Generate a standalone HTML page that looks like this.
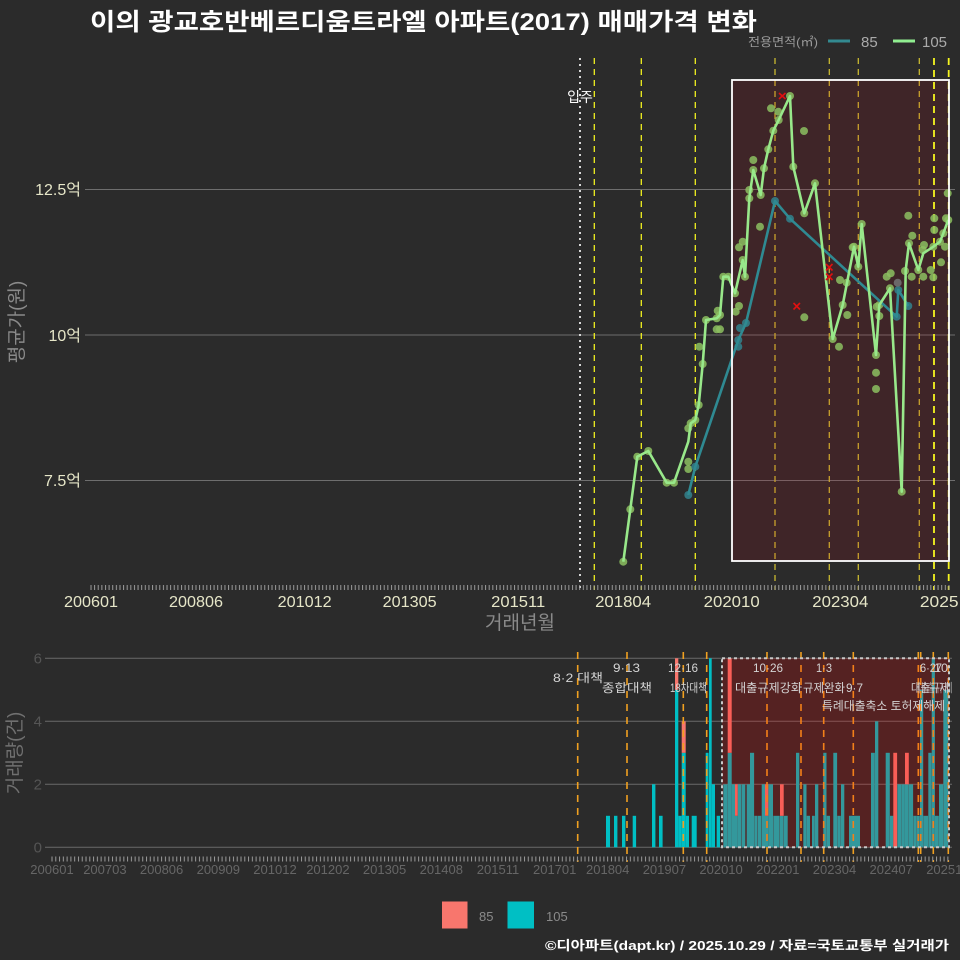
<!DOCTYPE html>
<html><head><meta charset="utf-8"><style>
html,body{margin:0;padding:0;background:#2b2b2b;}
svg{display:block;}
text{font-family:"Liberation Sans","Noto Sans CJK KR",sans-serif;}
</style></head><body>
<svg width="960" height="960" viewBox="0 0 960 960" xmlns="http://www.w3.org/2000/svg">
<defs>
<pattern id="tkT" x="90.5" y="0" width="3.62" height="10" patternUnits="userSpaceOnUse"><rect x="0" y="0" width="1" height="10" fill="#9a9a9a"/></pattern>
<pattern id="tkB" x="51.5" y="0" width="3.78" height="10" patternUnits="userSpaceOnUse"><rect x="0" y="0" width="1" height="10" fill="#9a9a9a"/></pattern>
<clipPath id="cT"><rect x="0" y="0" width="958" height="960"/></clipPath>
</defs>
<rect width="960" height="960" fill="#2b2b2b"/>

<!-- Title -->
<text x="90" y="30" font-size="24" font-weight="bold" fill="#ffffff" textLength="667" lengthAdjust="spacingAndGlyphs">이의 광교호반베르디움트라엘 아파트(2017) 매매가격 변화</text>

<!-- Top legend -->
<text x="748" y="46" font-size="12" fill="#9a9a9a" textLength="70" lengthAdjust="spacingAndGlyphs">전용면적(㎡)</text>
<line x1="828" y1="41" x2="850" y2="41" stroke="#338a90" stroke-width="3"/>
<text x="861" y="47" font-size="15" fill="#aaaaaa">85</text>
<line x1="893" y1="41" x2="915" y2="41" stroke="#90ee90" stroke-width="3"/>
<text x="922" y="47" font-size="15" fill="#aaaaaa">105</text>

<!-- TOP CHART -->
<g stroke="#6e6e6e" stroke-width="1">
<line x1="85" y1="189.5" x2="955" y2="189.5"/>
<line x1="85" y1="335" x2="955" y2="335"/>
<line x1="85" y1="480.5" x2="955" y2="480.5"/>
</g>
<g font-size="16" fill="#e6e6c8" text-anchor="end">
<text x="81" y="195">12.5억</text>
<text x="81" y="341">10억</text>
<text x="81" y="486">7.5억</text>
</g>
<text transform="translate(23,322) rotate(-90)" font-size="19" fill="#8a8a8a" text-anchor="middle">평균가(원)</text>

<!-- vertical lines top -->
<line x1="580" y1="58" x2="580" y2="590" stroke="#d8d8d8" stroke-width="2" stroke-dasharray="2,4"/>
<g stroke="#f0f020" stroke-width="1.3" stroke-dasharray="6,5">
<line x1="594.3" y1="58" x2="594.3" y2="590"/>
<line x1="641.3" y1="58" x2="641.3" y2="590"/>
<line x1="695.3" y1="58" x2="695.3" y2="590"/>
<line x1="775" y1="58" x2="775" y2="590" stroke="#c8b830"/>
<line x1="829.3" y1="58" x2="829.3" y2="590" stroke="#c8b830"/>
<line x1="858.3" y1="58" x2="858.3" y2="590" stroke="#c8b830"/>
<line x1="919.3" y1="58" x2="919.3" y2="590" stroke="#c8b830"/>
</g>
<!-- shaded rect -->
<rect x="732" y="80" width="217" height="481" fill="rgb(200,0,20)" fill-opacity="0.13"/>
<g stroke="#f5f520" stroke-width="1.8" stroke-dasharray="7,5">
<line x1="934" y1="58" x2="934" y2="590"/>
<line x1="948.7" y1="58" x2="948.7" y2="590"/>
</g>
<text x="580" y="102" font-size="14" fill="#ffffff" text-anchor="middle">입주</text>

<!-- tick row top -->
<rect x="90" y="585" width="860" height="5" fill="url(#tkT)"/>
<g font-size="16" fill="#e6e6c8" text-anchor="middle" clip-path="url(#cT)">
<text x="91" y="607" textLength="54" lengthAdjust="spacingAndGlyphs">200601</text>
<text x="196" y="607" textLength="54" lengthAdjust="spacingAndGlyphs">200806</text>
<text x="304.6" y="607" textLength="54" lengthAdjust="spacingAndGlyphs">201012</text>
<text x="409.6" y="607" textLength="54" lengthAdjust="spacingAndGlyphs">201305</text>
<text x="518.2" y="607" textLength="54" lengthAdjust="spacingAndGlyphs">201511</text>
<text x="623.1" y="607" textLength="56" lengthAdjust="spacingAndGlyphs">201804</text>
<text x="731.7" y="607" textLength="56" lengthAdjust="spacingAndGlyphs">202010</text>
<text x="840.3" y="607" textLength="56" lengthAdjust="spacingAndGlyphs">202304</text>
<text x="948.9" y="607" textLength="58" lengthAdjust="spacingAndGlyphs">202510</text>
</g>
<text x="520" y="629" font-size="19" fill="#8a8a8a" text-anchor="middle">거래년월</text>

<!-- green scatter -->
<g fill="rgb(140,192,96)" fill-opacity="0.85">
<circle cx="623.3" cy="561.7" r="4"/><circle cx="630.3" cy="509.3" r="4"/><circle cx="637.3" cy="456.7" r="4"/><circle cx="648.3" cy="451" r="4"/><circle cx="666.7" cy="482.7" r="4"/><circle cx="674" cy="482.7" r="4"/><circle cx="688.3" cy="428.3" r="4"/><circle cx="688.3" cy="461.7" r="4"/><circle cx="688.3" cy="469" r="4"/><circle cx="690.7" cy="423.3" r="4"/><circle cx="695.3" cy="420" r="4"/><circle cx="698.7" cy="405" r="4"/><circle cx="699.3" cy="346.7" r="4"/><circle cx="702.7" cy="364" r="4"/><circle cx="706" cy="320" r="4"/><circle cx="716.7" cy="329.3" r="4"/><circle cx="720" cy="329.3" r="4"/><circle cx="716.7" cy="318.3" r="4"/><circle cx="720" cy="315" r="4"/><circle cx="717.7" cy="310.7" r="4"/><circle cx="723.3" cy="276.7" r="4"/><circle cx="728.3" cy="276.7" r="4"/><circle cx="735" cy="293.3" r="4"/><circle cx="735.7" cy="311.7" r="4"/><circle cx="739" cy="306" r="4"/><circle cx="739" cy="247.3" r="4"/><circle cx="742.7" cy="241.7" r="4"/><circle cx="742.7" cy="260" r="4"/><circle cx="745" cy="276.7" r="4"/><circle cx="749.3" cy="198.3" r="4"/><circle cx="749.3" cy="190" r="4"/><circle cx="753.3" cy="170" r="4"/><circle cx="753.3" cy="160" r="4"/><circle cx="760" cy="226.7" r="4"/><circle cx="760.7" cy="195" r="4"/><circle cx="764" cy="168.3" r="4"/><circle cx="768.3" cy="149.3" r="4"/><circle cx="771" cy="108.3" r="4"/><circle cx="773.3" cy="130.7" r="4"/><circle cx="778.3" cy="111.7" r="4"/><circle cx="778.7" cy="120" r="4"/><circle cx="790" cy="96" r="4"/><circle cx="793.3" cy="166.7" r="4"/><circle cx="804" cy="131" r="4"/><circle cx="804.3" cy="213.3" r="4"/><circle cx="804.3" cy="317.3" r="4"/><circle cx="815" cy="183.3" r="4"/><circle cx="832.7" cy="339" r="4"/><circle cx="839" cy="346.7" r="4"/><circle cx="840" cy="280" r="4"/><circle cx="842.7" cy="305" r="4"/><circle cx="846.7" cy="282.7" r="4"/><circle cx="847.3" cy="315" r="4"/><circle cx="852.7" cy="247.3" r="4"/><circle cx="854" cy="246.7" r="4"/><circle cx="858.3" cy="266.7" r="4"/><circle cx="861.7" cy="224" r="4"/><circle cx="876" cy="355" r="4"/><circle cx="876" cy="372.7" r="4"/><circle cx="876" cy="389" r="4"/><circle cx="876.7" cy="306.7" r="4"/><circle cx="879.3" cy="316" r="4"/><circle cx="879.3" cy="305" r="4"/><circle cx="886.7" cy="276.7" r="4"/><circle cx="890" cy="288.3" r="4"/><circle cx="890.7" cy="273.3" r="4"/><circle cx="901.7" cy="491.7" r="4"/><circle cx="905" cy="271" r="4"/><circle cx="908.3" cy="215.7" r="4"/><circle cx="909" cy="243.3" r="4"/><circle cx="911.7" cy="276.7" r="4"/><circle cx="912.3" cy="235.7" r="4"/><circle cx="918.3" cy="270" r="4"/><circle cx="922.7" cy="250" r="4"/><circle cx="923.3" cy="276.7" r="4"/><circle cx="924" cy="245" r="4"/><circle cx="930.7" cy="270" r="4"/><circle cx="933.3" cy="277.3" r="4"/><circle cx="933.3" cy="246.7" r="4"/><circle cx="934.3" cy="218.3" r="4"/><circle cx="934.3" cy="230" r="4"/><circle cx="940" cy="241.7" r="4"/><circle cx="941" cy="262.3" r="4"/><circle cx="943.3" cy="233.3" r="4"/><circle cx="945" cy="246.7" r="4"/><circle cx="946" cy="218.3" r="4"/><circle cx="947.7" cy="193.3" r="4"/><circle cx="948.3" cy="220" r="4"/>
</g>
<!-- teal scatter -->
<g fill="rgb(50,125,135)" fill-opacity="0.9">
<circle cx="688.3" cy="495" r="4"/><circle cx="695.3" cy="466.7" r="4"/><circle cx="738.3" cy="340" r="4"/><circle cx="738.3" cy="346.7" r="4"/><circle cx="740" cy="328" r="4"/><circle cx="746" cy="323" r="4"/><circle cx="775" cy="201" r="4"/><circle cx="790" cy="218.7" r="4"/><circle cx="896.7" cy="316.7" r="4"/><circle cx="898.3" cy="290" r="4"/><circle cx="908.3" cy="306" r="4"/>
<circle cx="897.7" cy="282.7" r="4" fill="#707070"/>
</g>
<!-- lines -->
<polyline fill="none" stroke="#2f8a92" stroke-width="2.6" stroke-linejoin="round" points="688.3,495 695.3,466.7 738.3,340 746,323 775,201 790,218.7 896.7,316.7 898.3,290 908.3,306"/>
<polyline fill="none" stroke="#98e88a" stroke-width="2.6" stroke-linejoin="round" points="623.3,561.7 630.3,509.3 637.3,456.7 648.3,451 666.7,482.7 674,482.7 688.3,441.7 690.7,423.3 695.3,420 698.7,405 702.7,364 706,320 716.7,318.3 720,315 723.3,276.7 728.3,276.7 735,293.3 742.7,260 745,276.7 749.3,198.3 753.3,170 760.7,195 764,168.3 768.3,149.3 773.3,130.7 778.7,120 790,96 793.3,166.7 804.3,213.3 815,183.3 832.7,339 842.7,305 854,246.7 858.3,266.7 861.7,224 876,355 879.3,305 890,288.3 901.7,491.7 905.7,270 909,243.3 918.3,270 923.3,253.3 933.3,246.7 940,241.7 943.3,233.3 948.3,220"/>
<!-- red x marks -->
<g stroke="#e01010" stroke-width="1.6">
<path d="M779 93 L785.5 99 M785.5 93 L779 99"/>
<path d="M826 264 L832.5 270.5 M832.5 264 L826 270.5"/>
<path d="M826 273.5 L832.5 280 M832.5 273.5 L826 280"/>
<path d="M793.5 303 L800 309.5 M800 303 L793.5 309.5"/>
</g>
<rect x="732" y="80" width="217" height="481" fill="none" stroke="#ffffff" stroke-width="1.8"/>

<!-- BOTTOM CHART -->
<g stroke="#6a6a6a" stroke-width="1">
<line x1="45" y1="658.3" x2="952" y2="658.3"/>
<line x1="45" y1="721.3" x2="952" y2="721.3"/>
<line x1="45" y1="784.3" x2="952" y2="784.3"/>
<line x1="45" y1="847.3" x2="952" y2="847.3"/>
</g>
<g font-size="15" fill="#555555" text-anchor="end">
<text x="42" y="663.5">6</text>
<text x="42" y="726.5">4</text>
<text x="42" y="789.5">2</text>
<text x="42" y="852.5">0</text>
</g>
<text transform="translate(21,753) rotate(-90)" font-size="19" fill="#707070" text-anchor="middle">거래량(건)</text>

<!-- bars: cyan -->
<g fill="#00bfc4">
<rect x="606" y="815.8" width="4" height="31.5"/>
<rect x="614" y="815.8" width="3.4" height="31.5"/>
<rect x="622" y="815.8" width="3.4" height="31.5"/>
<rect x="632.7" y="815.8" width="3.4" height="31.5"/>
<rect x="652" y="784.3" width="3.4" height="63"/>
<rect x="659" y="815.8" width="3.6" height="31.5"/>
<rect x="675" y="689.8" width="3.3" height="157.5"/>
<rect x="678.3" y="815.8" width="3.4" height="31.5"/>
<rect x="681.7" y="752.8" width="4" height="94.5"/>
<rect x="685.7" y="815.8" width="3.3" height="31.5"/>
<rect x="691.7" y="815.8" width="5" height="31.5"/>
<rect x="705.7" y="752.8" width="2.8" height="94.5"/>
<rect x="709" y="658.3" width="2.7" height="189"/>
<rect x="711.7" y="784.3" width="3.3" height="63"/>
<rect x="716.7" y="815.8" width="3.3" height="31.5"/>
<rect x="723.3" y="784.3" width="4.2" height="63"/>
<rect x="727.7" y="752.8" width="4" height="94.5"/>
<rect x="731.7" y="784.3" width="3.3" height="63"/>
<rect x="735" y="815.8" width="2.7" height="31.5"/>
<rect x="737.7" y="784.3" width="3.6" height="63"/>
<rect x="741.7" y="784.3" width="3.6" height="63"/>
<rect x="746.7" y="784.3" width="3.3" height="63"/>
<rect x="750" y="752.8" width="4.1" height="94.5"/>
<rect x="754.3" y="815.8" width="3" height="31.5"/>
<rect x="757.7" y="815.8" width="3.6" height="31.5"/>
<rect x="761.7" y="784.3" width="3.3" height="63"/>
<rect x="765" y="815.8" width="3.3" height="31.5"/>
<rect x="768.3" y="784.3" width="4.7" height="63"/>
<rect x="773.3" y="815.8" width="6.4" height="31.5"/>
<rect x="780" y="815.8" width="3.7" height="31.5"/>
<rect x="784" y="815.8" width="3.7" height="31.5"/>
<rect x="796" y="752.8" width="3.3" height="94.5"/>
<rect x="803.3" y="784.3" width="3.2" height="63"/>
<rect x="806.7" y="815.8" width="3.3" height="31.5"/>
<rect x="812" y="815.8" width="2.8" height="31.5"/>
<rect x="815" y="784.3" width="3.3" height="63"/>
<rect x="823.3" y="752.8" width="3.2" height="94.5"/>
<rect x="826.7" y="815.8" width="3.3" height="31.5"/>
<rect x="833.3" y="752.8" width="3.8" height="94.5"/>
<rect x="837.3" y="815.8" width="3.5" height="31.5"/>
<rect x="841" y="784.3" width="3.3" height="63"/>
<rect x="849" y="815.8" width="11" height="31.5"/>
<rect x="871" y="752.8" width="3.8" height="94.5"/>
<rect x="875" y="721.3" width="3.3" height="126"/>
<rect x="885.7" y="752.8" width="4.1" height="94.5"/>
<rect x="890" y="815.8" width="3.3" height="31.5"/>
<rect x="897.3" y="784.3" width="4.2" height="63"/>
<rect x="901.7" y="784.3" width="3.2" height="63"/>
<rect x="905" y="784.3" width="3.8" height="63"/>
<rect x="909" y="784.3" width="4.1" height="63"/>
<rect x="913.3" y="815.8" width="3.2" height="31.5"/>
<rect x="916.7" y="815.8" width="3.1" height="31.5"/>
<rect x="920" y="689.8" width="3.2" height="157.5"/>
<rect x="923.3" y="815.8" width="4.8" height="31.5"/>
<rect x="928.3" y="752.8" width="3.2" height="94.5"/>
<rect x="931.7" y="658.3" width="3.2" height="189"/>
<rect x="935" y="815.8" width="3.8" height="31.5"/>
<rect x="939" y="784.3" width="4.1" height="63"/>
<rect x="943.3" y="689.8" width="5" height="157.5"/>
</g>
<!-- bars: salmon -->
<g fill="#f8766d">
<rect x="675" y="658.3" width="3.3" height="31.5"/>
<rect x="681.7" y="721.3" width="4" height="31.5"/>
<rect x="727.7" y="658.3" width="4" height="94.5"/>
<rect x="735" y="784.3" width="2.7" height="31.5"/>
<rect x="765" y="784.3" width="3.3" height="31.5"/>
<rect x="780" y="784.3" width="3.7" height="31.5"/>
<rect x="893.3" y="752.8" width="3.8" height="94.5"/>
<rect x="905" y="752.8" width="3.8" height="31.5"/>
</g>

<!-- orange dashed lines -->
<g stroke="#f0a020" stroke-width="1.6" stroke-dasharray="7,6">
<line x1="577.7" y1="652" x2="577.7" y2="862"/>
<line x1="627" y1="652" x2="627" y2="862"/>
<line x1="683.3" y1="652" x2="683.3" y2="862"/>
<line x1="706.7" y1="652" x2="706.7" y2="862"/>
<line x1="767" y1="652" x2="767" y2="862"/>
<line x1="801" y1="652" x2="801" y2="862"/>
<line x1="823.7" y1="652" x2="823.7" y2="862"/>
<line x1="853.3" y1="652" x2="853.3" y2="862"/>
<line x1="918.3" y1="652" x2="918.3" y2="862"/>
<line x1="920.7" y1="652" x2="920.7" y2="862"/>
<line x1="933.3" y1="652" x2="933.3" y2="862"/>
<line x1="948.3" y1="652" x2="948.3" y2="862"/>
</g>
<!-- shaded rect bottom -->
<rect x="722" y="658.3" width="227" height="189" fill="#ff0000" fill-opacity="0.2"/>
<rect x="722" y="658.3" width="227" height="189" fill="none" stroke="#c8c8c8" stroke-width="2" stroke-dasharray="3,3"/>

<!-- annotations -->
<g font-size="12" fill="#d4d4d4">
<text x="553" y="682" textLength="50" lengthAdjust="spacingAndGlyphs">8·2 대책</text>
<text x="613" y="672" textLength="27" lengthAdjust="spacingAndGlyphs">9·13</text>
<text x="602" y="692" textLength="50" lengthAdjust="spacingAndGlyphs">종합대책</text>
<text x="668" y="672" textLength="30" lengthAdjust="spacingAndGlyphs">12·16</text>
<text x="670" y="692" textLength="37" lengthAdjust="spacingAndGlyphs">18차대책</text>
<text x="753" y="672" textLength="30" lengthAdjust="spacingAndGlyphs">10·26</text>
<text x="735" y="692" textLength="67" lengthAdjust="spacingAndGlyphs">대출규제강화</text>
<text x="816" y="672" textLength="16" lengthAdjust="spacingAndGlyphs">1·3</text>
<text x="803" y="692" textLength="42" lengthAdjust="spacingAndGlyphs">규제완화</text>
<text x="846" y="692" textLength="17" lengthAdjust="spacingAndGlyphs">9·7</text>
<text x="822" y="710" textLength="123" lengthAdjust="spacingAndGlyphs">특례대출축소 토허제해제</text>
<text x="920" y="672" textLength="22" lengthAdjust="spacingAndGlyphs">6·27</text>
<text x="934" y="672" textLength="14" lengthAdjust="spacingAndGlyphs">10</text>
<text x="911" y="692" textLength="38" lengthAdjust="spacingAndGlyphs">대출규제</text>
<text x="917" y="692" textLength="36" lengthAdjust="spacingAndGlyphs" fill-opacity="0.6">대출규제</text>
</g>

<!-- tick row bottom -->
<rect x="51" y="856.5" width="899" height="5" fill="url(#tkB)"/>
<g font-size="13" fill="#666666" text-anchor="middle">
<text x="52" y="874">200601</text>
<text x="104.9" y="874">200703</text>
<text x="161.6" y="874">200806</text>
<text x="218.3" y="874">200909</text>
<text x="275" y="874">201012</text>
<text x="327.9" y="874">201202</text>
<text x="384.6" y="874">201305</text>
<text x="441.3" y="874">201408</text>
<text x="498" y="874">201511</text>
<text x="554.7" y="874">201701</text>
<text x="607.7" y="874">201804</text>
<text x="664.4" y="874">201907</text>
<text x="721.1" y="874">202010</text>
<text x="777.8" y="874">202201</text>
<text x="834.5" y="874">202304</text>
<text x="891.2" y="874">202407</text>
<text x="947.9" y="874">202510</text>
</g>

<!-- bottom legend -->
<rect x="442" y="901.5" width="25.5" height="27" fill="#f8766d"/>
<text x="479" y="921" font-size="13" fill="#8a8a8a">85</text>
<rect x="507.5" y="901.5" width="26.5" height="27" fill="#00bfc4"/>
<text x="546" y="921" font-size="13" fill="#8a8a8a">105</text>

<!-- caption -->
<text x="545" y="950" font-size="13" font-weight="bold" fill="#ffffff" textLength="404" lengthAdjust="spacingAndGlyphs">©디아파트(dapt.kr) / 2025.10.29 / 자료=국토교통부 실거래가</text>
</svg>
</body></html>
